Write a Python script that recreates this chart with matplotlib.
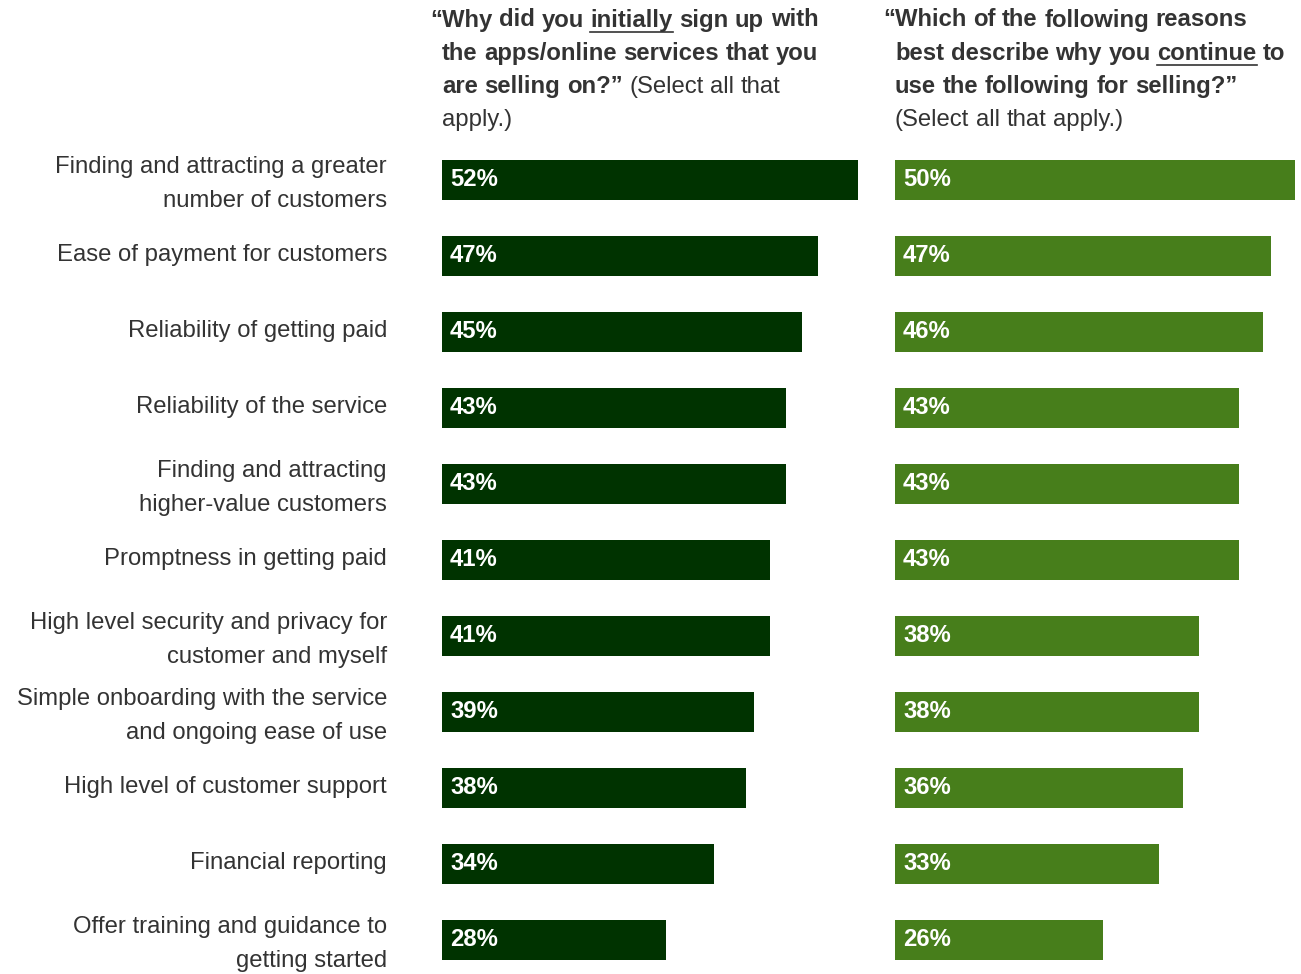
import matplotlib
matplotlib.use("Agg")
import matplotlib.pyplot as plt

plt.rcParams['font.family'] = ['Liberation Sans', 'DejaVu Sans']

reasons = [
    "Finding and attracting a greater\nnumber of customers",
    "Ease of payment for customers",
    "Reliability of getting paid",
    "Reliability of the service",
    "Finding and attracting\nhigher-value customers",
    "Promptness in getting paid",
    "High level security and privacy for\ncustomer and myself",
    "Simple onboarding with the service\nand ongoing ease of use",
    "High level of customer support",
    "Financial reporting",
    "Offer training and guidance to\ngetting started",
]
initially = [52, 47, 45, 43, 43, 41, 41, 39, 38, 34, 28]
continued = [50, 47, 46, 43, 43, 43, 38, 38, 36, 33, 26]

dark_green = "#003300"
light_green = "#477e1b"
text_col = "#333333"
fs = 17.2

W, H = 1301, 974
fig = plt.figure(figsize=(W / 100, H / 100), dpi=100)

# axes placed in pixel units: bars 8 px per percentage point, rows 76 px apart
top_px, bot_px = 142, 974.2
ax_h = (bot_px - top_px) / H
ax_b = 1 - bot_px / H
ax1 = fig.add_axes([442 / W, ax_b, 440 / W, ax_h])
ax2 = fig.add_axes([895 / W, ax_b, 406 / W, ax_h])

rows = list(range(len(reasons)))
for ax, vals, col in [(ax1, initially, dark_green), (ax2, continued, light_green)]:
    ax.barh(rows, vals, height=40 / 76, color=col, left=0)
    ax.set_xlim(0, ax.get_position().width * W / 8)
    ax.set_ylim(10.95 - 0.5, -0.5)
    ax.axis("off")
    for r, v in zip(rows, vals):
        ax.annotate(f"{v}%", (0, r), xytext=(8, 1), textcoords="offset pixels",
                    ha="left", va="center", color="white", fontsize=fs,
                    fontweight="bold")

for r, lab in zip(rows, reasons):
    dy = -4 if "\n" in lab else 1
    ax1.annotate(lab, (0, r), xytext=(-55, dy), textcoords="offset pixels",
                 ha="right", va="center", color=text_col, fontsize=fs,
                 linespacing=1.7, annotation_clip=False)

renderer = fig.canvas.get_renderer()


def word_width(word, weight):
    t = fig.text(0, 0, word, fontsize=fs, fontweight=weight)
    w = t.get_window_extent(renderer).width
    t.remove()
    return w


def draw_line(x_px, y_px, runs):
    # runs: (text, bold, underline); words laid out one by one
    x = x_px
    for text, bold, under in runs:
        weight = "bold" if bold else "normal"
        space = word_width("x x", weight) - word_width("xx", weight)
        words = text.split(" ")
        for i, word in enumerate(words):
            if i > 0:
                x += space
            if word == "":
                continue
            fig.text(x / W, 1 - y_px / H, word, fontsize=fs, fontweight=weight,
                     color=text_col, ha="left", va="center")
            w = word_width(word, weight)
            if under:
                fig.add_artist(plt.Line2D([x / W, (x + w) / W],
                                          [1 - (y_px + 12) / H] * 2,
                                          color=text_col, lw=1.2))
            x += w


left_header = [
    (430, [("\u201cWhy did you ", True, False), ("initially", True, True),
           (" sign up with", True, False)]),
    (442, [("the apps/online services that you", True, False)]),
    (442, [("are selling on?\u201d", True, False), (" (Select all that", False, False)]),
    (442, [("apply.)", False, False)]),
]
right_header = [
    (883, [("\u201cWhich of the following reasons", True, False)]),
    (895, [("best describe why you ", True, False), ("continue", True, True),
           (" to", True, False)]),
    (895, [("use the following for selling?\u201d", True, False)]),
    (895, [("(Select all that apply.)", False, False)]),
]
for i, (x0, runs) in enumerate(left_header):
    draw_line(x0, 20 + 33.3 * i, runs)
for i, (x0, runs) in enumerate(right_header):
    draw_line(x0, 20 + 33.3 * i, runs)

fig.savefig("out.png", dpi=100, facecolor="white")
